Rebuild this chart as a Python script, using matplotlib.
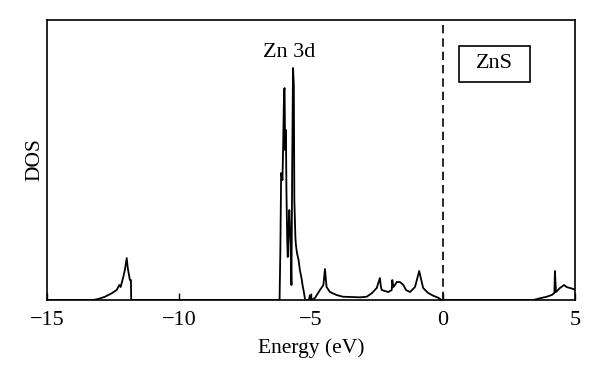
import matplotlib
matplotlib.use("Agg")
import matplotlib.pyplot as plt
from matplotlib.patches import Rectangle

plt.rcParams["font.family"] = ["Liberation Serif", "DejaVu Serif"]

# DOS curve (energy in eV, DOS in arbitrary units)
energy = [-15.0, -13.26, -13.06, -12.80, -12.55, -12.36, -12.26, -12.21, -12.11, -12.05,
          -11.98, -11.94, -11.86, -11.82, -11.81,
          -6.19, -6.16, -6.13, -6.08, -6.05, -6.02, -6.00, -5.98, -5.95, -5.93,
          -5.90, -5.88, -5.85, -5.82, -5.80, -5.77, -5.74, -5.71, -5.68, -5.65,
          -5.63, -5.59, -5.57, -5.53, -5.47, -5.42, -5.36, -5.32, -5.27, -5.22,
          -5.08, -5.04, -5.00, -4.85, -4.66, -4.53, -4.47, -4.41, -4.28, -4.03,
          -3.79, -3.14, -2.89, -2.70, -2.51, -2.39, -2.35, -2.32, -2.07, -1.94,
          -1.92, -1.88, -1.82, -1.75, -1.63, -1.50, -1.40, -1.25, -1.06, -0.97,
          -0.90, -0.84, -0.75, -0.56, -0.37, -0.18, -0.05,
          3.42, 3.67, 3.93, 4.12, 4.22, 4.24, 4.28, 4.43, 4.59, 4.68, 4.81, 4.94, 5.0]
dos = [0, 0, 1, 3.3, 6.7, 10, 15, 13, 23, 30,
       42, 32, 20, 20, 0,
       0, 50, 127, 120, 160, 210, 212, 150, 170, 110,
       60, 43, 70, 90, 75, 50, 15, 140, 232, 215,
       100, 62, 55, 47, 40, 30, 22, 15, 8, 0,
       0, 5, 0, 2, 10, 15, 31, 13, 8, 5,
       3.3, 2.7, 3.3, 6.7, 12, 22, 13, 10, 8, 10,
       20, 13, 15, 18, 18, 15, 10, 8, 13, 22,
       29, 22, 12, 7, 4.3, 2.3, 0,
       0, 1.7, 3.3, 5, 7, 29, 8, 12, 15, 13, 12, 11, 10]
xticks = [-15, -10, -5, 0, 5]
fermi = 0.0

fig = plt.figure(figsize=(6.0, 3.78), dpi=100)
ax = fig.add_axes([0.0783, 0.2063, 0.88, 0.7407])
ax.plot(energy, dos, color="black", lw=1.3)
ax.axvline(fermi, color="black", lw=1.2, ls=(0, (5, 3)))
ax.set_xlim(-15, 5)
ax.set_ylim(0, 280)
ax.set_xticks(xticks)
ax.set_xticklabels([str(t).replace("-", "\u2212") for t in xticks])
ax.set_yticks([])
ax.tick_params(axis="x", direction="in", length=5, width=1, labelsize=16, pad=8)
for s in ax.spines.values():
    s.set_linewidth(1.2)
ax.set_xlabel("Energy (eV)", fontsize=15.5, labelpad=6)
ax.set_ylabel("DOS", fontsize=15.5, labelpad=2)

ax.text(0.458, 0.885, "Zn 3d", transform=ax.transAxes, ha="center", va="center", fontsize=16)
ax.add_patch(Rectangle((0.780, 0.779), 0.1345, 0.129, transform=ax.transAxes,
                       fc="white", ec="black", lw=1.2))
ax.text(0.8466, 0.843, "ZnS", transform=ax.transAxes, ha="center", va="center", fontsize=16)

fig.savefig("out.png", dpi=100)
